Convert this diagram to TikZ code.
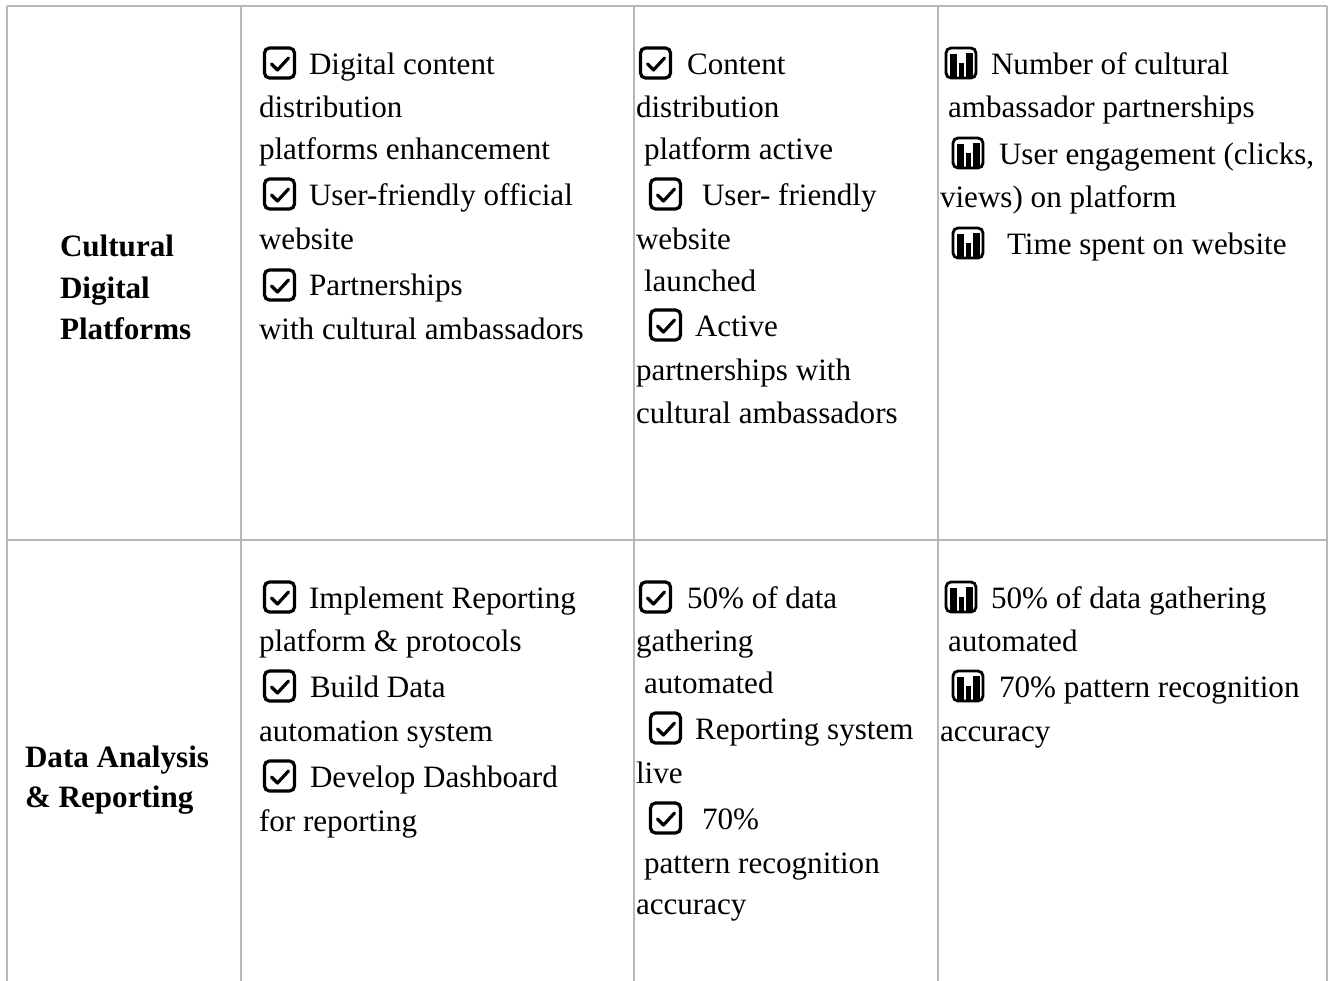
\documentclass[tikz,border=0pt]{standalone}
\usepackage{fontspec}
\setmainfont{Liberation Serif}
\definecolor{rule}{HTML}{B8B8B8}
\tikzset{
  x=1pt,y=-1pt,
  txt/.style={anchor=base west,inner sep=0pt,outer sep=0pt,font=\fontsize{31.1}{36}\selectfont,text=black},
  head/.style={txt,font=\fontsize{31.1}{36}\selectfont\bfseries},
  gridline/.style={draw=rule,line width=2.3pt},
  checkicon/.pic={
    \draw[black,line width=3.2pt,rounded corners=5pt] (-15,-15) rectangle (15,15);
    \draw[black,line width=3.2pt,line cap=round,line join=round] (-8,1) -- (-2,7) -- (9,-5);
  },
  barsicon/.pic={
    \draw[black,line width=2.8pt,rounded corners=5pt] (-15,-15) rectangle (15,15);
    \fill[black] (-11,-9) rectangle (-4,14);
    \fill[black] (-2.5,0) rectangle (3,14);
    \fill[black] (5,-10) rectangle (12,14);
  }
}
\begin{document}
\begin{tikzpicture}
\useasboundingbox (0,0) rectangle (1330,981);
\fill[white] (0,0) rectangle (1330,981);
% grid
\coordinate (tl) at (7,6);
\coordinate (tr) at (1327,6);
\coordinate (ml) at (7,540);
\coordinate (mr) at (1327,540);
\coordinate (bl) at (7,981);
\coordinate (br) at (1327,981);
\draw[gridline] (tl) -- (tr);
\draw[gridline] (ml) -- (mr);
\draw[gridline] (tl) -- (bl);
\draw[gridline] (tr) -- (br);
\draw[gridline] (241,6) -- (241,981);
\draw[gridline] (634,6) -- (634,981);
\draw[gridline] (938,6) -- (938,981);
% headings
\node[head] (h1) at (60,257) {Cultural};
\node[head] (h2) at (60,299) {Digital};
\node[head] (h3) at (60,340) {Platforms};
\node[head] (h4) at (25,767) {Data Analysis};
\node[head] (h5) at (25,807) {\& Reporting};
% row 1 col 2
\pic at (279.5,63) {checkicon};
\pic at (279.5,194) {checkicon};
\pic at (279.5,285) {checkicon};
\node[txt] (a1) at (309,75) {Digital content};
\node[txt] (a2) at (259,118) {distribution};
\node[txt] (a3) at (259,160) {platforms enhancement};
\node[txt] (a4) at (309,206) {User-friendly official};
\node[txt] (a5) at (259,250) {website};
\node[txt] (a6) at (309,296) {Partnerships};
\node[txt] (a7) at (259,340) {with cultural ambassadors};
% row 1 col 3
\pic at (655.5,63) {checkicon};
\pic at (665.5,194) {checkicon};
\pic at (665.5,325) {checkicon};
\node[txt] (b1) at (687,75) {Content};
\node[txt] (b2) at (636,118) {distribution};
\node[txt] (b3) at (644,160) {platform active};
\node[txt] (b4) at (702,206) {User- friendly};
\node[txt] (b5) at (636,250) {website};
\node[txt] (b6) at (644,292) {launched};
\node[txt] (b7) at (695,337) {Active};
\node[txt] (b8) at (636,381) {partnerships with};
\node[txt] (b9) at (636,423) {cultural ambassadors};
% row 1 col 4
\pic at (961,63) {barsicon};
\pic at (968,153) {barsicon};
\pic at (968,243) {barsicon};
\node[txt] (c1) at (991,75) {Number of cultural};
\node[txt] (c2) at (948,118) {ambassador partnerships};
\node[txt] (c3) at (999,165) {User engagement (clicks,};
\node[txt] (c4) at (940,208) {views) on platform};
\node[txt] (c5) at (1007,255) {Time spent on website};
% row 2 col 2
\pic at (279.5,597) {checkicon};
\pic at (279.5,686) {checkicon};
\pic at (279.5,776) {checkicon};
\node[txt] (d1) at (309,608) {Implement Reporting};
\node[txt] (d2) at (259,651) {platform \& protocols};
\node[txt] (d3) at (310,697) {Build Data};
\node[txt] (d4) at (259,741) {automation system};
\node[txt] (d5) at (310,787) {Develop Dashboard};
\node[txt] (d6) at (259,831) {for reporting};
% row 2 col 3
\pic at (655.5,597) {checkicon};
\pic at (665.5,728) {checkicon};
\pic at (665.5,818) {checkicon};
\node[txt] (e1) at (687,608) {50\% of data};
\node[txt] (e2) at (636,651) {gathering};
\node[txt] (e3) at (644,693) {automated};
\node[txt] (e4) at (695,739) {Reporting system};
\node[txt] (e5) at (636,783) {live};
\node[txt] (e6) at (702,829) {70\%};
\node[txt] (e7) at (644,873) {pattern recognition};
\node[txt] (e8) at (636,914) {accuracy};
% row 2 col 4
\pic at (961,597) {barsicon};
\pic at (968,686) {barsicon};
\node[txt] (f1) at (991,608) {50\% of data gathering};
\node[txt] (f2) at (948,651) {automated};
\node[txt] (f3) at (999,697) {70\% pattern recognition};
\node[txt] (f4) at (940,741) {accuracy};
\end{tikzpicture}
\end{document}
